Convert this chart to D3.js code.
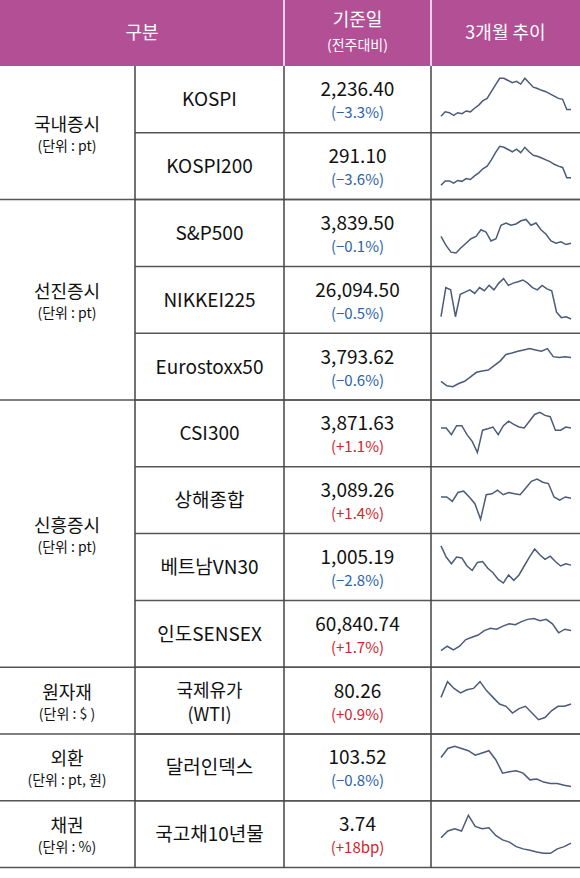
<!DOCTYPE html><html><head><meta charset="utf-8"><script src="https://cdn.jsdelivr.net/npm/d3@7"></script>
<style>body{margin:0;background:#fff}svg{display:block;font-family:"Noto Sans CJK KR","Noto Sans",sans-serif}</style></head><body>
<script>
const groups=[{name:"국내증시",unit:"(단위 : pt)",n:2},{name:"선진증시",unit:"(단위 : pt)",n:3},{name:"신흥증시",unit:"(단위 : pt)",n:4},{name:"원자재",unit:"(단위 : $ )",n:1},{name:"외환",unit:"(단위 : pt, 원)",n:1},{name:"채권",unit:"(단위 : %)",n:1}];
const names=["KOSPI","KOSPI200","S&P500","NIKKEI225","Eurostoxx50","CSI300","상해종합","베트남VN30","인도SENSEX","국제유가\n(WTI)","달러인덱스","국고채10년물"];
const values=["2,236.40","291.10","3,839.50","26,094.50","3,793.62","3,871.63","3,089.26","1,005.19","60,840.74","80.26","103.52","3.74"];
const changes=["(−3.3%)","(−3.6%)","(−0.1%)","(−0.5%)","(−0.6%)","(+1.1%)","(+1.4%)","(−2.8%)","(+1.7%)","(+0.9%)","(−0.8%)","(+18bp)"];
const trends=[
[10,20,18,12,18,16,22,20,28,35,45,50,65,80,95,95,90,85,88,82,95,85,75,72,68,65,60,55,50,48,25,25],
[5,15,15,10,16,14,20,18,26,33,42,48,62,78,92,90,85,80,86,78,90,80,72,70,66,62,58,52,48,45,22,22],
[40,20,5,3,15,25,35,40,55,50,30,35,65,70,65,68,75,78,65,70,55,45,30,25,28,22,25],
[10,75,70,10,60,65,70,62,75,68,80,70,85,95,80,85,88,92,85,75,70,80,72,68,20,8,10,5],
[15,5,3,10,15,25,35,38,40,50,60,75,78,82,85,88,85,82,88,70,68,70,68],
[60,60,45,65,65,45,30,5,55,58,62,45,65,75,68,62,60,75,90,95,88,85,55,55,62,60],
[55,55,45,65,68,55,40,5,60,62,70,60,65,62,60,75,90,95,88,85,55,48,55,52],
[95,70,55,70,68,50,40,58,60,45,35,20,12,30,18,30,50,70,88,75,65,72,60,50,55,52],
[10,20,12,20,35,40,45,55,60,58,65,70,68,75,80,82,77,80,70,50,58,55],
[55,90,75,65,72,75,90,70,55,40,35,20,30,35,20,5,10,25,35,35,40],
[70,90,95,90,85,75,80,85,65,35,38,40,35,20,22,15,12,12,8,5],
[40,55,60,55,90,65,60,62,45,35,30,20,15,12,8,5,5,15,20,28]];
const W=580,H=878,top0=66,rh=66.8;
const svg=d3.select("body").append("svg").attr("width",W).attr("height",H);
svg.append("rect").attr("width",W).attr("height",top0).attr("fill","#b24f95");
[[142,["구분"]],[357.5,["기준일","(전주대비)"]],[505.5,["3개월 추이"]]].forEach(([x,t])=>{
 t.forEach((s,i)=>svg.append("text").attr("x",x).attr("y",t.length>1?(i?50:26):39).attr("text-anchor","middle").attr("fill","#fff").attr("font-size",i?14:18).text(s));});
[284,431].forEach(x=>svg.append("line").attr("x1",x).attr("x2",x).attr("y1",0).attr("y2",top0).attr("stroke","#fff").attr("stroke-width",1.5));
const y=i=>top0+i*rh;
let r=0;
groups.forEach(g=>{
 const y0=y(r),y1=y(r+g.n),ym=(y0+y1)/2;
 svg.append("text").attr("x",67).attr("y",ym-2).attr("text-anchor","middle").attr("font-size",18).attr("fill","#111").text(g.name);
 svg.append("text").attr("x",67).attr("y",ym+18).attr("text-anchor","middle").attr("font-size",14).attr("fill","#111").text(g.unit);
 svg.append("line").attr("x1",0).attr("x2",W).attr("y1",y1).attr("y2",y1).attr("stroke","#555").attr("stroke-width",1.5);
 r+=g.n;});
const xs=d3.scaleLinear().range([441,571]);
names.forEach((n,i)=>{
 const y0=y(i),ym=y0+rh/2;
 if(i>0)svg.append("line").attr("x1",135).attr("x2",W).attr("y1",y0).attr("y2",y0).attr("stroke","#555").attr("stroke-width",1.5);
 const ln=n.split("\n");
 ln.forEach((s,k)=>svg.append("text").attr("x",209.5).attr("y",ln.length>1?(k?ym+20:ym-4):ym+7).attr("text-anchor","middle").attr("font-size",ln.length>1?18:19).attr("fill","#111").text(s));
 svg.append("text").attr("x",357.5).attr("y",ym-3).attr("text-anchor","middle").attr("font-size",19).attr("fill","#111").text(values[i]);
 svg.append("text").attr("x",357.5).attr("y",ym+19).attr("text-anchor","middle").attr("font-size",15).attr("fill",changes[i].includes("+")?"#d2232a":"#2e63a8").text(changes[i]);
 const d=trends[i];xs.domain([0,d.length-1]);
 const ys=d3.scaleLinear().domain([0,100]).range([y0+rh-12,y0+10]);
 svg.append("path").attr("d",d3.line().x((v,k)=>xs(k)).y(v=>ys(v))(d)).attr("fill","none").attr("stroke","#4b5b78").attr("stroke-width",1.5);
});
[135,284,431].forEach(x=>svg.append("line").attr("x1",x).attr("x2",x).attr("y1",top0).attr("y2",y(12)).attr("stroke","#444").attr("stroke-width",1.5));
</script></body></html>
